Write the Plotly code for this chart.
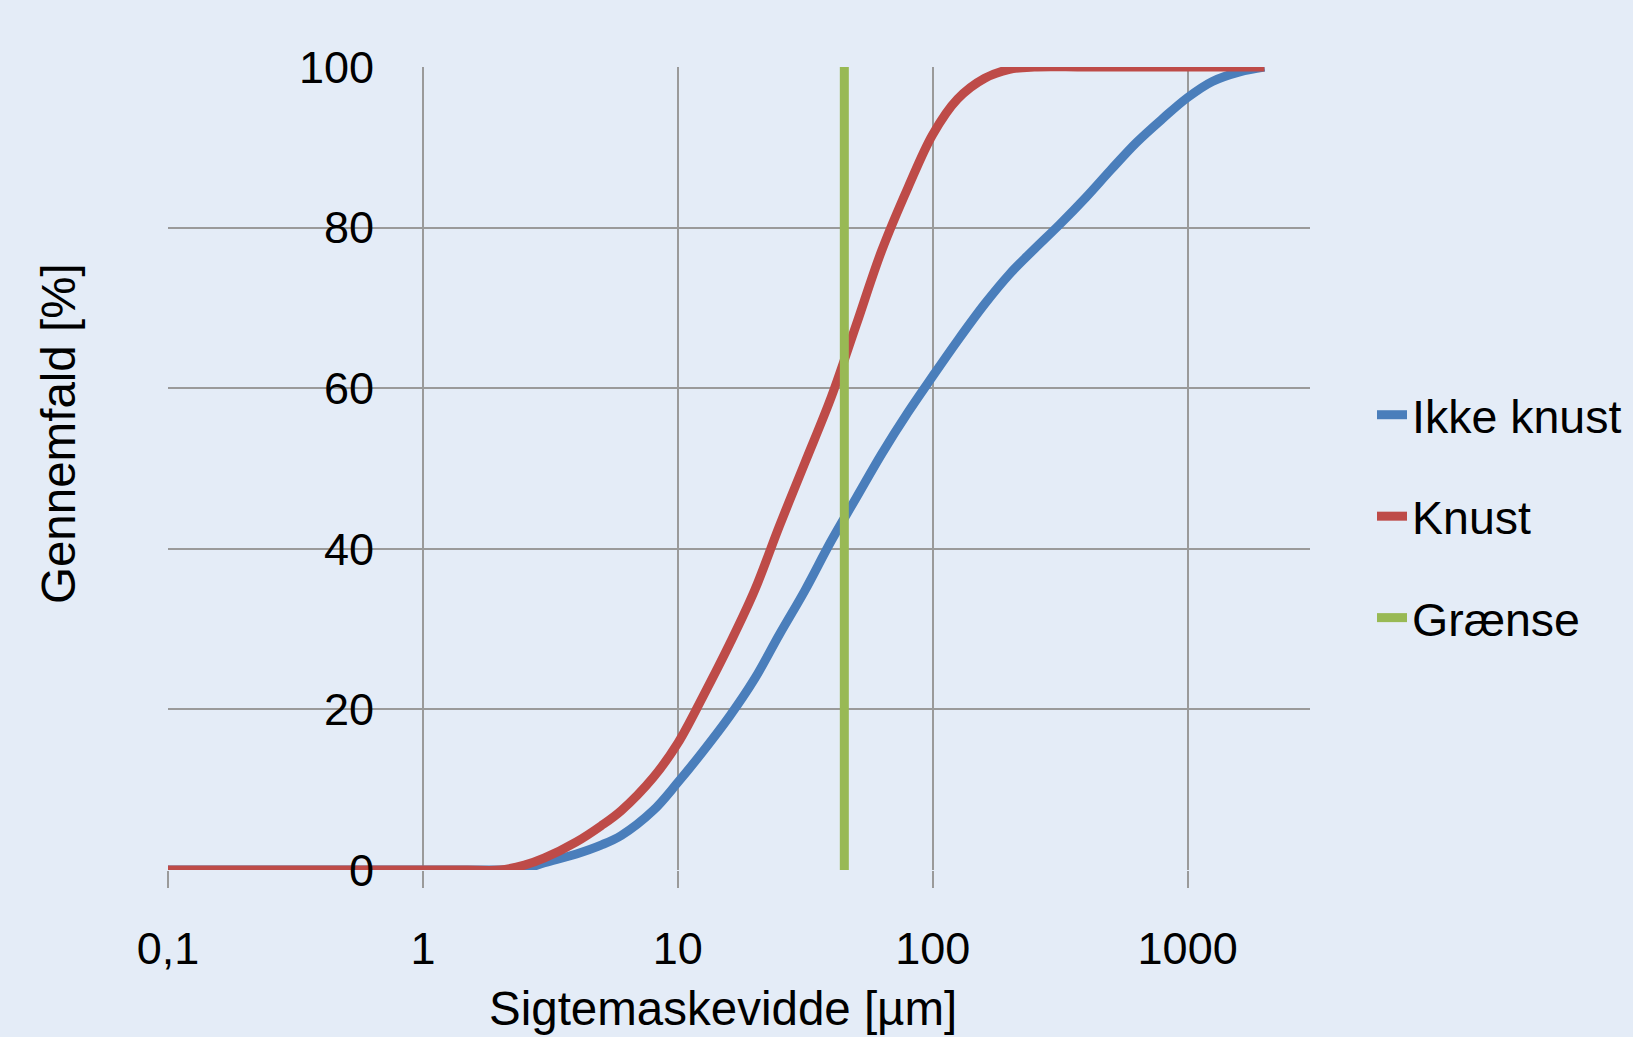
import plotly.graph_objects as go

# Data
ikke_knust_x = [0.1, 1, 1.5, 2, 2.5, 3, 4, 5, 6, 8, 10, 12.5, 16, 20, 25, 31.5, 40, 50, 63, 80,
                100, 125, 160, 200, 250, 315, 400, 500, 630, 800, 1000, 1250, 1600, 2000]
ikke_knust_y = [0, 0, 0, 0, 0.15, 0.9, 2.0, 3.1, 4.3, 7.4, 10.9, 14.7, 19.2, 23.8, 29.3, 34.8, 41.0, 46.3, 51.8, 57.0,
                61.5, 65.9, 70.5, 74.2, 77.3, 80.4, 83.8, 87.2, 90.6, 93.6, 96.2, 98.2, 99.4, 100]

knust_x = [0.1, 1, 1.5, 2, 2.5, 3, 4, 5, 6, 8, 10, 12.5, 16, 20, 25, 31.5, 40, 50, 63, 80,
           100, 125, 160, 200, 250, 400, 1000, 2000]
knust_y = [0, 0, 0, 0, 0.6, 1.5, 3.5, 5.5, 7.4, 11.5, 15.8, 21.5, 28.2, 34.8, 42.8, 50.7, 58.9, 67.8, 77.1, 85.0,
           91.6, 96.0, 98.6, 99.7, 100, 100, 100, 100]

graense_x = [45, 45]
graense_y = [0, 100]

series_names = ["Ikke knust", "Knust", "Grænse"]
series_colors = ["#4A7EBB", "#BE4B48", "#98B954"]

x_tickvals = [0.1, 1, 10, 100, 1000]
x_ticktext = ["0,1", "1", "10", "100", "1000"]
y_tickvals = [0, 20, 40, 60, 80, 100]

x_title = "Sigtemaskevidde [µm]"
y_title = "Gennemfald [%]"

W, H = 1633, 1037
ML, MR, MT, MB = 168, 323, 67, 167
FONT = "Liberation Sans, Arial, sans-serif"
FS_TICK = 45
FS_LEG = 46.5
FS_TITLE = 47.5
BG = "#E4ECF7"
GRID = "#9A9A9A"

fig = go.Figure()
for xs, ys, name, col in [
    (ikke_knust_x, ikke_knust_y, series_names[0], series_colors[0]),
    (knust_x, knust_y, series_names[1], series_colors[1]),
    (graense_x, graense_y, series_names[2], series_colors[2]),
]:
    fig.add_trace(go.Scatter(
        x=xs, y=ys, name=name, mode="lines",
        line=dict(color=col, width=9, shape="spline", smoothing=1.0),
        legendgroup=name,
    ))

plot_w = W - ML - MR
plot_h = H - MT - MB

fig.update_layout(
    width=W, height=H,
    margin=dict(l=ML, r=MR, t=MT, b=MB, autoexpand=False),
    paper_bgcolor=BG, plot_bgcolor=BG,
    font=dict(family=FONT, size=FS_TICK, color="black"),
    showlegend=True,
    legend=dict(
        x=(1372 - ML) / plot_w, xanchor="left",
        y=(H - MB - 378) / plot_h, yanchor="top",
        bgcolor="rgba(0,0,0,0)", borderwidth=0,
        tracegroupgap=38, traceorder="grouped",
        font=dict(family=FONT, size=FS_LEG, color="black"),
    ),
    xaxis=dict(
        type="log", range=[-1, 3.48],
        tickvals=x_tickvals, ticktext=x_ticktext,
        showgrid=True, gridcolor=GRID, gridwidth=1.5,
        ticks="outside", ticklen=17, tickwidth=1.5, tickcolor=GRID,
        ticklabelstandoff=22,
        showline=False, zeroline=False,
        tickfont=dict(family=FONT, size=FS_TICK, color="black"),
    ),
    yaxis=dict(
        range=[0, 100], tickvals=y_tickvals,
        showgrid=True, gridcolor=GRID, gridwidth=1.5,
        ticks="", showline=False, zeroline=False,
        anchor="free", position=(374 - ML) / plot_w, side="left",
        tickfont=dict(family=FONT, size=FS_TICK, color="black"),
    ),
)

fig.add_annotation(
    text=x_title, xref="paper", yref="paper",
    x=(723 - ML) / plot_w, y=(H - MB - 1008) / plot_h,
    xanchor="center", yanchor="middle", showarrow=False,
    font=dict(family=FONT, size=FS_TITLE, color="black"),
)
fig.add_annotation(
    text=y_title, xref="paper", yref="paper",
    x=(58 - ML) / plot_w, y=(H - MB - 434) / plot_h,
    xanchor="center", yanchor="middle", showarrow=False, textangle=-90,
    font=dict(family=FONT, size=FS_TITLE, color="black"),
)

fig.write_html(
    "out.html",
    config={"displayModeBar": False},
    post_script="document.body.style.margin='0';document.body.style.background='" + BG + "';",
)
